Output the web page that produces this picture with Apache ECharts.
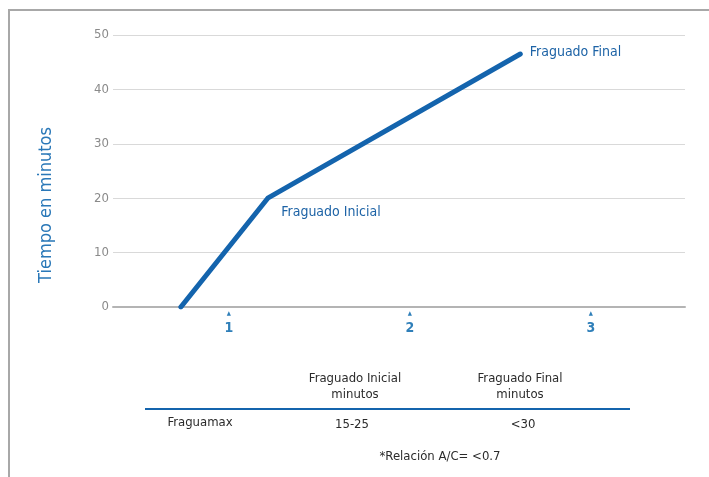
<!DOCTYPE html>
<html>
<head>
<meta charset="utf-8">
<script src="https://cdn.jsdelivr.net/npm/echarts@6/dist/echarts.min.js"></script>
<style>
  html, body { margin: 0; padding: 0; background: #fff; }
  #chart { width: 709px; height: 477px; }
</style>
</head>
<body>
<div id="chart"></div>
<script>
// Setting curve: time (minutes) against stage
const xValues = [0.735, 1.215, 2.61];
const yValues = [0, 20, 46.5];
const pointLabels = ['', 'Fraguado Inicial', 'Fraguado Final'];
const xTickValues = [1, 2, 3];
const yTickValues = [0, 10, 20, 30, 40, 50];

// Summary table under the chart
const tableHeaders = ['Fraguado Inicial\nminutos', 'Fraguado Final\nminutos'];
const tableRow = ['Fraguamax', '15-25', '<30'];
const footnote = '*Relación A/C= <0.7';

const FONT = '"Liberation Sans Narrow", "Noto Sans Condensed", "DejaVu Sans Condensed", "Roboto Condensed", Roboto, sans-serif';
const BLUE = '#1464ad';
const TEXT_BLUE = '#1d63a6';

const chart = echarts.init(document.getElementById('chart'), null, { renderer: 'canvas' });

const seriesData = xValues.map((x, i) => {
  const item = { value: [x, yValues[i]] };
  if (pointLabels[i]) {
    item.label = {
      show: true,
      formatter: pointLabels[i],
      position: 'right',
      offset: i === 1 ? [8, 14] : [4, -2]
    };
  }
  return item;
});

const tableText = (t, x, y) => ({
  type: 'text',
  x: x,
  y: y,
  style: {
    text: t,
    font: '13px ' + FONT,
    fill: '#2b2b2b',
    align: 'center',
    textAlign: 'center',
    verticalAlign: 'top',
    textVerticalAlign: 'top',
    lineHeight: 16
  }
});

chart.setOption({
  animation: false,
  grid: { left: 113, right: 24, top: 35, bottom: 170, containLabel: false },
  xAxis: {
    type: 'value',
    min: 0.36,
    max: 3.52,
    splitLine: { show: false },
    axisLine: { show: true, lineStyle: { color: '#b4b4b4', width: 2 } },
    axisTick: { show: false },
    axisLabel: {
      customValues: xTickValues,
      margin: 2,
      formatter: v => '{t|▲}\n{n|' + v + '}',
      rich: {
        t: { fontSize: 6, lineHeight: 9, color: '#2f7fb9', fontFamily: FONT },
        n: { fontSize: 14, lineHeight: 20, color: '#2f7fb9', fontFamily: FONT, fontWeight: 'bold' }
      }
    }
  },
  yAxis: {
    type: 'value',
    min: 0,
    max: 50,
    interval: 10,
    name: 'Tiempo en minutos',
    nameLocation: 'middle',
    nameGap: 58,
    nameRotate: 90,
    nameTextStyle: {
      color: '#2a78b8',
      fontSize: 18,
      fontFamily: FONT,
      padding: [0, 68, 0, 0]
    },
    axisLine: { show: false },
    axisTick: { show: false },
    axisLabel: {
      customValues: yTickValues,
      margin: 4,
      color: '#8a8a8a',
      fontSize: 13,
      fontFamily: FONT
    },
    splitLine: { show: true, lineStyle: { color: '#d9d9d9', width: 1 } }
  },
  series: [{
    type: 'line',
    data: seriesData,
    symbol: 'circle',
    symbolSize: 1,
    showSymbol: true,
    itemStyle: { color: BLUE },
    lineStyle: { color: BLUE, width: 5, cap: 'round', join: 'round' },
    label: { color: TEXT_BLUE, fontSize: 14, fontFamily: FONT },
    z: 5
  }],
  graphic: [
    // outer frame
    { type: 'polyline', shape: { points: [[9, 477], [9, 10], [709, 10]] },
      style: { stroke: '#a8a8a8', lineWidth: 2, fill: null } },
    tableText(tableHeaders[0], 355, 371),
    tableText(tableHeaders[1], 520, 371),
    { type: 'line', shape: { x1: 145, y1: 409, x2: 630, y2: 409 },
      style: { stroke: BLUE, lineWidth: 2 } },
    tableText(tableRow[0], 200, 415),
    tableText(tableRow[1], 352, 417),
    tableText(tableRow[2], 523, 417),
    tableText(footnote, 440, 449)
  ]
});
</script>
</body>
</html>
